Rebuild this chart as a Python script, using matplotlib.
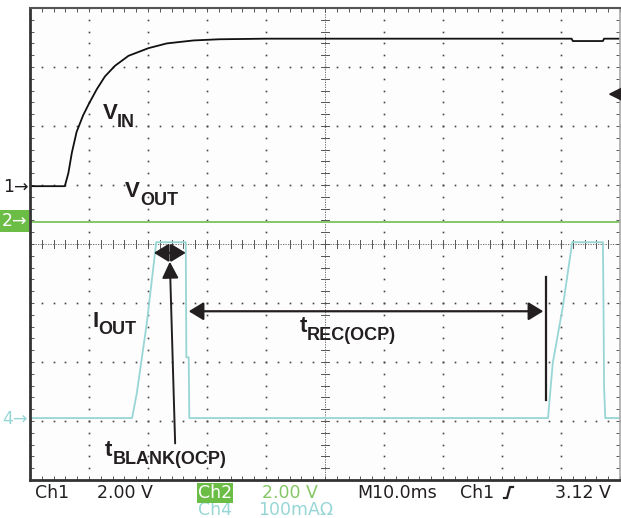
import matplotlib
matplotlib.use('Agg')
import matplotlib.pyplot as plt
import numpy as np

# time in ms (10 ms/div), vertical position in screen divisions (0..8)
ch1_t = [0, 5.9, 6.5, 7.1, 7.9, 9.0, 10.0, 11.3, 12.7, 14.4, 16.7, 20.1, 23.2, 27.7, 32.1, 40, 60, 80, 91.8, 92.0, 97.1, 97.3, 100]
ch1_v = [4.98, 4.98, 5.20, 5.55, 5.90, 6.18, 6.38, 6.62, 6.84, 7.02, 7.19, 7.32, 7.40, 7.45, 7.47, 7.48, 7.48, 7.48, 7.48, 7.44, 7.44, 7.48, 7.48]

ch2_t = [0, 100]
ch2_v = [4.38, 4.38]

ch4_t = [0, 17.3, 18.1, 19.8, 21.4, 26.4, 26.5, 26.9, 27.0, 87.8, 88.6, 90.3, 91.9, 97.1, 97.2, 97.3, 97.5, 100]
ch4_v = [1.05, 1.05, 1.47, 2.66, 4.03, 4.03, 2.08, 2.08, 1.05, 1.05, 1.98, 2.93, 4.03, 4.03, 3.02, 1.58, 1.05, 1.05]

trig_level = 6.54

bottom_row1 = [('Ch1', 35, 'k'), ('2.00 V', 97, 'k'), ('2.00 V', 262, 'green'),
               ('M10.0ms', 357, 'k'), ('Ch1', 460, 'k'), ('3.12 V', 555, 'k')]
bottom_row2 = [('Ch4', 198, 'cyan'), ('100mA\u03a9', 258, 'cyan')]

W, H = 621, 518
ink = '#231f20'
green = '#85c766'
green_box = '#6cbd45'
cyan = '#98d6d6'

fig = plt.figure(figsize=(W / 100, H / 100), dpi=100)
fig.patch.set_facecolor('white')
ax = fig.add_axes([30 / W, 38 / H, 590 / W, 472 / H])
ax.set_facecolor('#fcfdfc')
ax.set_xlim(0, 100)
ax.set_ylim(0, 8)


def px(x, y):
    return x / W, 1 - y / H


# graticule
fine_y = np.arange(0, 8.01, 0.2)
fine_x = np.arange(0, 100.1, 2)
for k in range(1, 10):
    if k == 5:
        continue
    ax.plot(np.full_like(fine_y, k * 10), fine_y, ls='none', marker='s', ms=1.2, color='#444444', mew=0)
for j in range(1, 8):
    if j == 4:
        continue
    ax.plot(fine_x, np.full_like(fine_x, j), ls='none', marker='s', ms=1.2, color='#444444', mew=0)
ax.axhline(4, color='#555555', lw=0.6, ls=(0, (1.5, 1.5)))
ax.axvline(50, color='#555555', lw=0.6, ls=(0, (1.5, 1.5)))
for xx in fine_x:
    ax.plot([xx, xx], [3.94, 4.06], color='#555555', lw=0.7)
for yy in fine_y:
    ax.plot([49.4, 50.6], [yy, yy], color='#555555', lw=0.7)

ax.set_xticks(np.arange(0, 101, 2))
ax.set_yticks(np.arange(0, 8.01, 0.2))
ax.tick_params(direction='in', length=3, width=0.7, color='#555555',
               top=True, right=True, labelbottom=False, labelleft=False)
ax.spines['left'].set_linewidth(2)
ax.spines['left'].set_color('#333333')
ax.spines['bottom'].set_linewidth(2)
ax.spines['bottom'].set_color('#333333')
ax.spines['top'].set_linewidth(1.5)
ax.spines['top'].set_color('#555555')
ax.spines['right'].set_linewidth(1.2)
ax.spines['right'].set_color('#aaaaaa')

# traces
ax.plot(ch2_t, ch2_v, color=green, lw=1.4)
ax.plot(ch4_t, ch4_v, color=cyan, lw=1.3)
ax.plot(ch1_t, ch1_v, color='#111111', lw=1.3)

# annotations
arr = dict(arrowstyle='<|-|>,head_length=0.9,head_width=0.55', color=ink, lw=1.6,
           mutation_scale=10, shrinkA=0, shrinkB=0)
ax.annotate('', xy=(21.0, 3.85), xytext=(26.4, 3.85), arrowprops=arr)
ax.annotate('', xy=(26.9, 2.86), xytext=(87.0, 2.86), arrowprops=arr)
ax.annotate('', xy=(23.7, 3.70), xytext=(24.6, 0.62),
            arrowprops=dict(arrowstyle='-|>,head_length=1.0,head_width=0.5', color=ink,
                            lw=1.4, mutation_scale=10, shrinkA=0, shrinkB=0))
ax.plot([87.5, 87.5], [1.36, 3.44], color=ink, lw=1.6)
ax.annotate('', xy=(98.0, trig_level), xytext=(100.4, trig_level), annotation_clip=False,
            arrowprops=dict(arrowstyle='-|>,head_length=0.9,head_width=0.45', color=ink,
                            lw=1.5, mutation_scale=10, shrinkA=0, shrinkB=0))

lab = dict(family='Liberation Sans', weight='bold', color=ink, va='baseline', ha='left')
for main, sub, xm, ym, xs, ys in [('V', 'IN', 103, 119, 117, 127),
                                  ('V', 'OUT', 125, 197, 140, 205),
                                  ('I', 'OUT', 92, 327, 98, 334),
                                  ('t', 'REC(OCP)', 300, 332, 307, 340),
                                  ('t', 'BLANK(OCP)', 105, 456, 113, 464)]:
    fig.text(*px(xm, ym), main, size=16, **lab)
    fig.text(*px(xs, ys), sub, size=13, **lab)

# channel markers
fig.text(*px(29, 187), '1\u2192', size=12.5, color=ink, ha='right', va='center')
fig.text(*px(27, 221), '2\u2192', size=12.5, color='white', ha='right', va='center',
         bbox=dict(boxstyle='square,pad=0.12', fc=green_box, ec='none'))
fig.text(*px(28, 419), '4\u2192', size=12.5, color=cyan, ha='right', va='center')

# readout
cols = {'k': ink, 'green': green, 'cyan': cyan}
for s, x, c in bottom_row1:
    fig.text(*px(x, 498), s, size=12.5, color=cols[c], ha='left', va='baseline')
for s, x, c in bottom_row2:
    fig.text(*px(x, 515), s, size=12.5, color=cols[c], ha='left', va='baseline')
fig.text(*px(198, 498), 'Ch2', size=12.5, color='white', ha='left', va='baseline',
         bbox=dict(boxstyle='square,pad=0.05', fc=green_box, ec='none'))
fig.add_artist(plt.Line2D([504 / W, 507 / W, 510 / W, 513 / W],
                          [1 - 498 / H, 1 - 498 / H, 1 - 487 / H, 1 - 487 / H],
                          color=ink, lw=1.6))

fig.savefig('out.png', dpi=100)
